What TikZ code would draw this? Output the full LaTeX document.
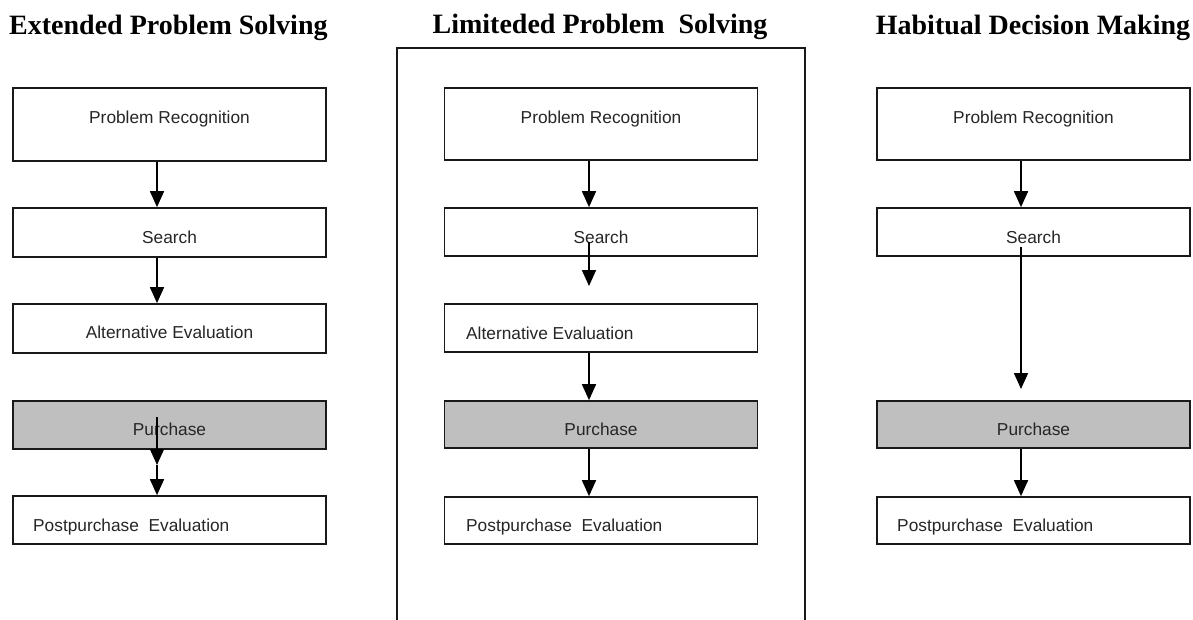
\documentclass[tikz,border=0pt]{standalone}
\usepackage{fontspec}
\setmainfont{Liberation Serif}
\setsansfont{Liberation Sans}
\usetikzlibrary{arrows.meta}
\begin{document}
\begin{tikzpicture}[x=1pt,y=-1pt,
  box/.style={draw=black!90, line width=1.7pt, fill=white, minimum width=313pt, inner sep=0pt},
  gbox/.style={box, fill=gray!50},
  lbl/.style={font=\sffamily\fontsize{17.3}{20}\selectfont, text=black!85, inner sep=0pt, anchor=base},
  lbll/.style={lbl, anchor=base west},
  ttl/.style={font=\bfseries\fontsize{28}{30}\selectfont, inner sep=0pt, anchor=base},
  arr/.style={line width=1.7pt, -{Triangle[width=14pt,length=16pt]}}
]
\useasboundingbox (0,0) rectangle (1193,619);

% titles
\node[ttl, anchor=base west] (T1) at (9,34) {Extended Problem Solving};
\node[ttl] (T2) at (600,33) {Limiteded Problem\ \ Solving};
\node[ttl] (T3) at (1033,34) {Habitual Decision Making};

% middle frame
\draw[line width=1.7pt, black!90] (397,621) -- (397,48) -- (805,48) -- (805,621);

% left column
\node[box, minimum height=73pt] (LPR) at (169.5,124.5) {};
\node[box, minimum height=49pt] (LS) at (169.5,232.5) {};
\node[box, minimum height=49pt] (LA) at (169.5,328.5) {};
\node[gbox, minimum height=48pt] (LP) at (169.5,425) {};
\node[box, minimum height=48pt] (LE) at (169.5,520) {};
\node[lbl] (tLPR) at (169.5,123) {Problem Recognition};
\node[lbl] (tLS) at (169.5,243) {Search};
\node[lbl] (tLA) at (169.5,338) {Alternative Evaluation};
\node[lbl] (tLP) at (169.5,435) {Purchase};
\node[lbll] (tLE) at (33,531) {Postpurchase\ \ Evaluation};

% middle column
\node[box, minimum height=72pt] (MPR) at (601,124) {};
\node[box, minimum height=48pt] (MS) at (601,232) {};
\node[box, minimum height=48pt] (MA) at (601,328) {};
\node[gbox, minimum height=47pt] (MP) at (601,424.5) {};
\node[box, minimum height=47pt] (ME) at (601,520.5) {};
\node[lbl] (tMPR) at (601,123) {Problem Recognition};
\node[lbl] (tMS) at (601,243) {Search};
\node[lbll] (tMA) at (466,339) {Alternative Evaluation};
\node[lbl] (tMP) at (601,435) {Purchase};
\node[lbll] (tME) at (466,531) {Postpurchase\ \ Evaluation};

% right column
\node[box, minimum height=72pt] (RPR) at (1033.5,124) {};
\node[box, minimum height=48pt] (RS) at (1033.5,232) {};
\node[gbox, minimum height=47pt] (RP) at (1033.5,424.5) {};
\node[box, minimum height=47pt] (RE) at (1033.5,520.5) {};
\node[lbl] (tRPR) at (1033.5,123) {Problem Recognition};
\node[lbl] (tRS) at (1033.5,243) {Search};
\node[lbl] (tRP) at (1033.5,435) {Purchase};
\node[lbll] (tRE) at (897,531) {Postpurchase\ \ Evaluation};

% left arrows
\draw[arr] ([xshift=-12.5pt]LPR.south) -- ([xshift=-12.5pt]LS.north);
\draw[arr] ([xshift=-12.5pt]LS.south) -- ([xshift=-12.5pt]LA.north);
\coordinate (LPa) at (157,417);
\coordinate (LPb) at (157,465);
\draw[arr] (LPa) -- (LPb);
\draw[arr] (LPb) -- ([xshift=-12.5pt]LE.north);

% middle arrows
\draw[arr] ([xshift=-12pt]MPR.south) -- ([xshift=-12pt]MS.north);
\coordinate (MSa) at (589,242);
\coordinate (MSb) at (589,286);
\draw[arr] (MSa) -- (MSb);
\draw[arr] ([xshift=-12pt]MA.south) -- ([xshift=-12pt]MP.north);
\draw[arr] ([xshift=-12pt]MP.south) -- ([xshift=-12pt]ME.north);

% right arrows
\draw[arr] ([xshift=-12.5pt]RPR.south) -- ([xshift=-12.5pt]RS.north);
\coordinate (RSa) at (1021,247);
\coordinate (RSb) at (1021,389);
\draw[arr] (RSa) -- (RSb);
\draw[arr] ([xshift=-12.5pt]RP.south) -- ([xshift=-12.5pt]RE.north);
\end{tikzpicture}
\end{document}
